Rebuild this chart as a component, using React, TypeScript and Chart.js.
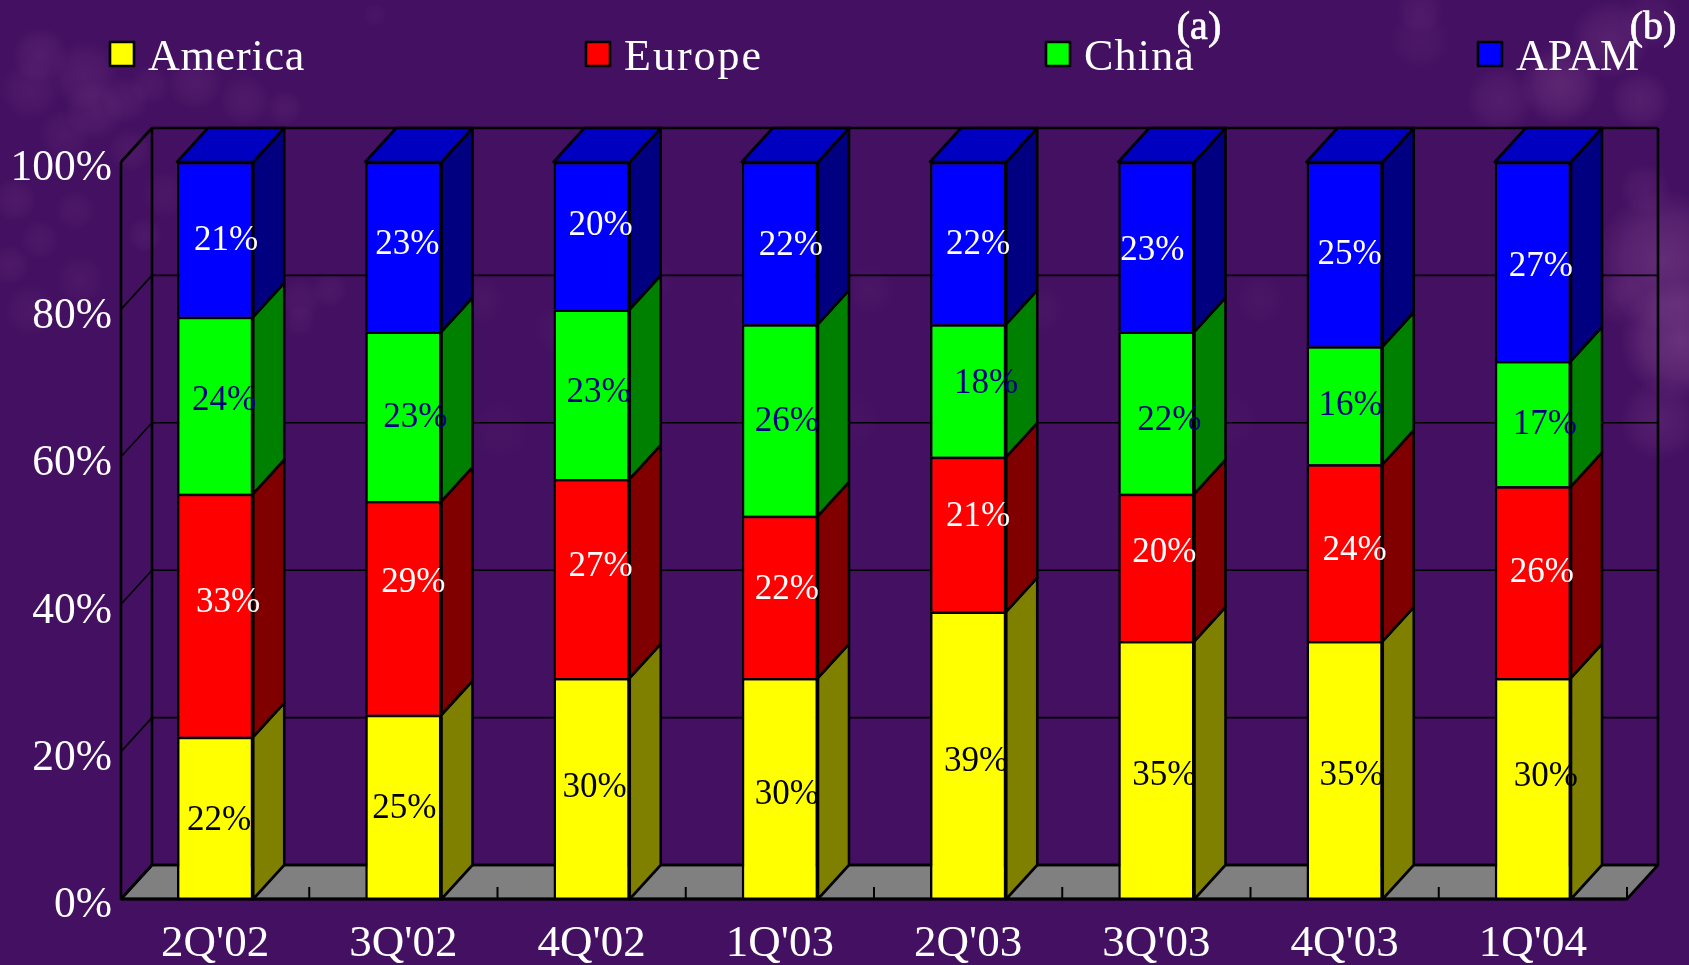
import React, { useEffect, useRef } from "react";
import { Chart, registerables } from "chart.js";

Chart.register(...registerables);

const categories = ["2Q'02", "3Q'02", "4Q'02", "1Q'03", "2Q'03", "3Q'03", "4Q'03", "1Q'04"];
const america = [22, 25, 30, 30, 39, 35, 35, 30];
const europe = [33, 29, 27, 22, 21, 20, 24, 26];
const china = [24, 23, 23, 26, 18, 22, 16, 17];
const apam = [21, 23, 20, 22, 22, 23, 25, 27];

const FONT = "'Liberation Serif', serif";
const W = 1689;
const H = 965;
const DX = 31;
const DY = 34;
const LINE = 2.6;

const seriesStyle = [
  { front: "#ffff00", side: "#808000", text: "#000000", legendX: 109, spacing: 0.8 },
  { front: "#ff0000", side: "#800000", text: "#ffffff", legendX: 585, spacing: 2 },
  { front: "#00ff00", side: "#008000", text: "#000080", legendX: 1045, spacing: 1.2 },
  { front: "#0000ff", side: "#000080", text: "#ffffff", legendX: 1477, spacing: 0 },
];

// hand placement of the value labels, relative to the centre of each segment
const labelNudge = [
  [[4, 0], [1, -1], [3, -4], [7, 3], [8, 4], [8, 3], [7, 3], [13, -15]],
  [[13, -15], [10, -28], [9, -15], [7, -10], [10, -20], [8, -18], [10, -5], [9, -12]],
  [[9, -7], [12, -1], [7, -4], [7, -1], [18, -10], [13, 5], [6, -2], [12, -2]],
  [[11, -2], [4, -5], [9, -13], [11, 0], [10, -1], [-4, 1], [5, -2], [8, 2]],
];

// mottled texture of the slide background: [x, y, radius, strength]
const textureBlobs = [
  [40, 55, 28, 0.14], [85, 75, 34, 0.13], [30, 90, 30, 0.1], [95, 110, 30, 0.13], [125, 100, 24, 0.11],
  [150, 85, 20, 0.09], [195, 82, 28, 0.11], [245, 100, 26, 0.1], [285, 108, 18, 0.09], [15, 200, 22, 0.1],
  [40, 240, 20, 0.08], [10, 265, 20, 0.09], [75, 210, 20, 0.08], [130, 150, 22, 0.09], [65, 135, 26, 0.09],
  [145, 235, 18, 0.09], [165, 195, 24, 0.07], [80, 280, 24, 0.08], [30, 310, 26, 0.08], [375, 15, 12, 0.05],
  [300, 300, 22, 0.08], [330, 290, 18, 0.08], [300, 320, 16, 0.07], [480, 300, 24, 0.05], [560, 330, 26, 0.05],
  [650, 280, 24, 0.05], [760, 300, 28, 0.05], [870, 290, 24, 0.06], [960, 270, 26, 0.06], [1040, 310, 24, 0.05],
  [1140, 285, 22, 0.05], [1260, 300, 24, 0.05], [500, 430, 30, 0.03], [850, 420, 30, 0.03], [1230, 420, 28, 0.03],
  [1420, 40, 30, 0.08], [1500, 100, 34, 0.14], [1560, 85, 40, 0.24], [1610, 40, 40, 0.18], [1640, 100, 30, 0.16],
  [1420, 10, 24, 0.1], [1650, 20, 30, 0.1], [1665, 260, 70, 0.3], [1680, 340, 60, 0.36], [1660, 420, 40, 0.16],
  [1620, 300, 26, 0.1], [1645, 190, 26, 0.12],
];

const threeD = {
  id: "threeD",
  beforeDraw(chart: any) {
    const { ctx } = chart;
    ctx.save();
    ctx.fillStyle = "#441061";
    ctx.fillRect(0, 0, W, H);
    for (const [x, y, r, a] of textureBlobs) {
      const g = ctx.createRadialGradient(x, y, 0, x, y, r);
      g.addColorStop(0, `rgba(170,110,170,${a})`);
      g.addColorStop(0.6, `rgba(170,110,170,${a * 0.6})`);
      g.addColorStop(1, "rgba(170,110,170,0)");
      ctx.fillStyle = g;
      ctx.fillRect(x - r, y - r, r * 2, r * 2);
    }
    ctx.restore();
  },
  beforeDatasetsDraw(chart: any) {
    const { ctx, chartArea: a, scales } = chart;
    const yS = scales.y;
    const xS = scales.x;
    ctx.save();
    ctx.strokeStyle = "#000";
    ctx.lineJoin = "round";
    // floor
    ctx.fillStyle = "#808080";
    ctx.beginPath();
    ctx.moveTo(a.left, a.bottom);
    ctx.lineTo(a.left + DX, a.bottom - DY);
    ctx.lineTo(a.right + DX, a.bottom - DY);
    ctx.lineTo(a.right, a.bottom);
    ctx.closePath();
    ctx.fill();
    ctx.lineWidth = LINE;
    ctx.stroke();
    // grid on the side wall and the back wall
    for (const v of yS.ticks.map((t: any) => t.value)) {
      const py = yS.getPixelForValue(v);
      ctx.lineWidth = v === 0 || v === 100 ? LINE : 1.6;
      ctx.beginPath();
      ctx.moveTo(a.left, py);
      ctx.lineTo(a.left + DX, py - DY);
      ctx.lineTo(a.right + DX, py - DY);
      ctx.stroke();
    }
    // verticals
    ctx.lineWidth = LINE;
    ctx.beginPath();
    ctx.moveTo(a.left, a.top);
    ctx.lineTo(a.left, a.bottom);
    ctx.moveTo(a.left + DX, a.top - DY);
    ctx.lineTo(a.left + DX, a.bottom - DY);
    ctx.moveTo(a.right + DX, a.top - DY);
    ctx.lineTo(a.right + DX, a.bottom - DY);
    ctx.stroke();
    // tick marks between the categories
    const step = (a.right - a.left) / categories.length;
    ctx.lineWidth = 2;
    ctx.beginPath();
    for (let i = 1; i <= categories.length; i++) {
      const px = xS.left + step * i;
      ctx.moveTo(px, a.bottom);
      ctx.lineTo(px, a.bottom - 12);
    }
    ctx.stroke();
    ctx.restore();
  },
  afterDatasetsDraw(chart: any) {
    const { ctx, chartArea: a } = chart;
    ctx.save();
    ctx.strokeStyle = "#000";
    ctx.lineWidth = LINE;
    ctx.lineJoin = "round";
    const last = chart.data.datasets.length - 1;
    chart.data.datasets.forEach((_: any, d: number) => {
      chart.getDatasetMeta(d).data.forEach((bar: any) => {
        const right = bar.x + bar.width / 2;
        const left = bar.x - bar.width / 2;
        ctx.fillStyle = seriesStyle[d].side;
        ctx.beginPath();
        ctx.moveTo(right, bar.y);
        ctx.lineTo(right + DX, bar.y - DY);
        ctx.lineTo(right + DX, bar.base - DY);
        ctx.lineTo(right, bar.base);
        ctx.closePath();
        ctx.fill();
        ctx.stroke();
        if (d === last) {
          ctx.fillStyle = "#0000c0";
          ctx.beginPath();
          ctx.moveTo(left, bar.y);
          ctx.lineTo(left + DX, bar.y - DY);
          ctx.lineTo(right + DX, bar.y - DY);
          ctx.lineTo(right, bar.y);
          ctx.closePath();
          ctx.fill();
          ctx.stroke();
        }
      });
    });
    // front edge of the floor
    ctx.lineWidth = 3;
    ctx.beginPath();
    ctx.moveTo(a.left, a.bottom);
    ctx.lineTo(a.right, a.bottom);
    ctx.stroke();
    // value labels
    ctx.lineWidth = LINE;
    ctx.font = `35px ${FONT}`;
    ctx.textAlign = "center";
    ctx.textBaseline = "middle";
    chart.data.datasets.forEach((ds: any, d: number) => {
      ctx.fillStyle = seriesStyle[d].text;
      chart.getDatasetMeta(d).data.forEach((bar: any, i: number) => {
        const [nx, ny] = labelNudge[d][i];
        ctx.fillText(`${ds.data[i]}%`, bar.x + nx, (bar.y + bar.base) / 2 + ny + 3);
      });
    });
    // legend
    ctx.textAlign = "left";
    ctx.textBaseline = "alphabetic";
    ctx.font = `44px ${FONT}`;
    chart.data.datasets.forEach((ds: any, d: number) => {
      const lx = seriesStyle[d].legendX;
      ctx.fillStyle = seriesStyle[d].front;
      ctx.fillRect(lx + 1, 42, 24, 24);
      ctx.strokeRect(lx + 1, 42, 24, 24);
      ctx.fillStyle = "#ffffff";
      ctx.letterSpacing = `${seriesStyle[d].spacing}px`;
      ctx.fillText(ds.label, lx + 39, 70);
    });
    ctx.letterSpacing = "0px";
    // panel marks
    ctx.font = `40px ${FONT}`;
    ctx.textAlign = "center";
    ctx.strokeStyle = "#ffffff";
    ctx.lineWidth = 0.7;
    ctx.fillText("(a)", 1199, 39);
    ctx.strokeText("(a)", 1199, 39);
    ctx.fillText("(b)", 1653, 39);
    ctx.strokeText("(b)", 1653, 39);
    ctx.restore();
  },
};

export default function App() {
  const ref = useRef<HTMLCanvasElement>(null);
  useEffect(() => {
    const chart = new Chart(ref.current as HTMLCanvasElement, {
      type: "bar",
      data: {
        labels: categories,
        datasets: [
          ["America", america],
          ["Europe", europe],
          ["China", china],
          ["APAM", apam],
        ].map(([label, data]: any, d) => ({
          label,
          data,
          backgroundColor: seriesStyle[d].front,
          borderColor: "#000000",
          borderWidth: 2.5,
          borderSkipped: "bottom",
          barPercentage: 0.405,
          categoryPercentage: 1,
        })),
      },
      options: {
        responsive: false,
        animation: false,
        devicePixelRatio: 1,
        layout: { padding: { top: 162, right: 62, left: 0, bottom: 0 } },
        plugins: { legend: { display: false }, tooltip: { enabled: false } },
        scales: {
          x: {
            stacked: true,
            grid: { display: false, drawTicks: false },
            border: { display: false },
            afterFit: (s: any) => {
              s.height = 66;
            },
            ticks: {
              color: "#ffffff",
              font: { family: FONT, size: 45 },
              padding: 18,
              maxRotation: 0,
              autoSkip: false,
            },
          },
          y: {
            stacked: true,
            min: 0,
            max: 100,
            grid: { display: false, drawTicks: false },
            border: { display: false },
            afterFit: (s: any) => {
              s.width = 121;
            },
            ticks: {
              color: "#ffffff",
              font: { family: FONT, size: 43.5 },
              stepSize: 20,
              padding: 9,
              labelOffset: 7,
              callback: (v: any) => `${v}%`,
            },
          },
        },
      },
      plugins: [threeD],
    } as any);
    return () => chart.destroy();
  }, []);
  return (
    <div style={{ position: "fixed", left: 0, top: 0, width: W, height: H, overflow: "hidden" }}>
      <canvas ref={ref} width={W} height={H} style={{ display: "block" }} />
    </div>
  );
}
